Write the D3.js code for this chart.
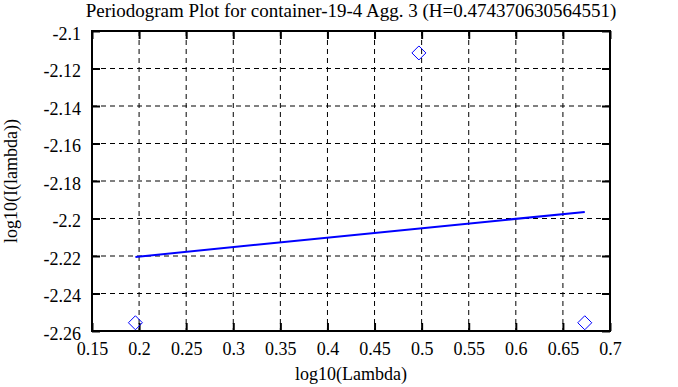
<!DOCTYPE html>
<html>
<head>
<meta charset="utf-8">
<script src="https://cdn.jsdelivr.net/npm/d3@7"></script>
<style>
  body { margin: 0; background: #fff; }
  svg text { font-family: "Liberation Serif", "DejaVu Serif", serif !important; }
</style>
</head>
<body>
<svg id="chart" width="678" height="387"></svg>
<script>
// observed periodogram points (log10 lambda, log10 I)
const pointX = [0.1961, 0.4971, 0.6732];
const pointY = [-2.2556, -2.1117, -2.2556];
// fitted line end points
const fitX = [0.1961, 0.6732];
const fitY = [-2.2205, -2.1965];

const xTicks = [0.15, 0.2, 0.25, 0.3, 0.35, 0.4, 0.45, 0.5, 0.55, 0.6, 0.65, 0.7];
const yTicks = [-2.1, -2.12, -2.14, -2.16, -2.18, -2.2, -2.22, -2.24, -2.26];

const titleText = "Periodogram Plot for container-19-4 Agg. 3 (H=0.474370630564551)";
const serif = "'Liberation Serif', 'DejaVu Serif', serif";

const margin = { top: 31, right: 68, bottom: 56, left: 92 };
const width = 678 - margin.left - margin.right;
const height = 387 - margin.top - margin.bottom;

const svg = d3.select("#chart");
const g = svg.append("g").attr("transform", `translate(${margin.left},${margin.top})`);

const x = d3.scaleLinear().domain([0.15, 0.7]).range([0, width]);
const y = d3.scaleLinear().domain([-2.26, -2.1]).range([height, 0]);

// dashed grid
g.selectAll(".vgrid")
  .data(xTicks.slice(1, -1))
  .join("line")
  .attr("x1", (d) => x(d)).attr("x2", (d) => x(d))
  .attr("y1", 0).attr("y2", height)
  .attr("stroke", "#000").attr("stroke-width", 1)
  .attr("stroke-dasharray", "5,4");
g.selectAll(".hgrid")
  .data(yTicks.slice(1, -1))
  .join("line")
  .attr("x1", 0).attr("x2", width)
  .attr("y1", (d) => y(d)).attr("y2", (d) => y(d))
  .attr("stroke", "#000").attr("stroke-width", 1)
  .attr("stroke-dasharray", "5,4");

// plain hyphen minus, trailing zeros dropped
const fmt = (d) => String(+d.toFixed(2));
const styleAxis = (sel) => {
  sel.attr("font-family", serif).attr("font-size", 18);
  sel.select(".domain").remove();
  sel.selectAll(".tick line").attr("stroke", "#000").attr("stroke-width", 2);
  sel.selectAll("text").attr("fill", "#000").style("font-family", serif);
};

// axes with inward ticks, mirrored on top/right
g.append("g")
  .attr("transform", `translate(0,${height})`)
  .call(d3.axisBottom(x).tickValues(xTicks).tickFormat(fmt).tickSizeInner(-8))
  .call(styleAxis)
  .call((s) => s.selectAll("text").attr("y", 24).attr("dy", null));
g.append("g")
  .call(d3.axisTop(x).tickValues(xTicks).tickFormat("").tickSizeInner(-8))
  .call(styleAxis);
g.append("g")
  .call(d3.axisLeft(y).tickValues(yTicks).tickFormat(fmt).tickSizeInner(-8).tickPadding(11))
  .call(styleAxis)
  .call((s) => s.selectAll("text").attr("dy", null).attr("y", 8));
g.append("g")
  .attr("transform", `translate(${width},0)`)
  .call(d3.axisRight(y).tickValues(yTicks).tickFormat("").tickSizeInner(-8))
  .call(styleAxis);

// frame
g.append("rect")
  .attr("width", width).attr("height", height)
  .attr("fill", "none").attr("stroke", "#000").attr("stroke-width", 2);

// fitted line
g.append("path")
  .datum(fitX.map((d, i) => [d, fitY[i]]))
  .attr("fill", "none").attr("stroke", "#0000ff").attr("stroke-width", 2)
  .attr("d", d3.line().x((d) => x(d[0])).y((d) => y(d[1])));

// diamond markers
g.selectAll(".pt")
  .data(pointX.map((d, i) => [d, pointY[i]]))
  .join("path")
  .attr("transform", (d) => `translate(${x(d[0])},${y(d[1])})`)
  .attr("d", "M0,-7L7,0L0,7L-7,0Z")
  .attr("fill", "none").attr("stroke", "#0000ff").attr("stroke-width", 1);

// title and axis labels
svg.append("text")
  .attr("x", margin.left + width / 2).attr("y", 17)
  .attr("text-anchor", "middle")
  .attr("font-family", serif).attr("font-size", 19)
  .text(titleText);
svg.append("text")
  .attr("x", margin.left + width / 2).attr("y", 380)
  .attr("text-anchor", "middle")
  .attr("font-family", serif).attr("font-size", 18)
  .text("log10(Lambda)");
svg.append("text")
  .attr("transform", `translate(17,${margin.top + height / 2}) rotate(-90)`)
  .attr("text-anchor", "middle")
  .attr("font-family", serif).attr("font-size", 18)
  .text("log10(I(lambda))");
</script>
</body>
</html>
